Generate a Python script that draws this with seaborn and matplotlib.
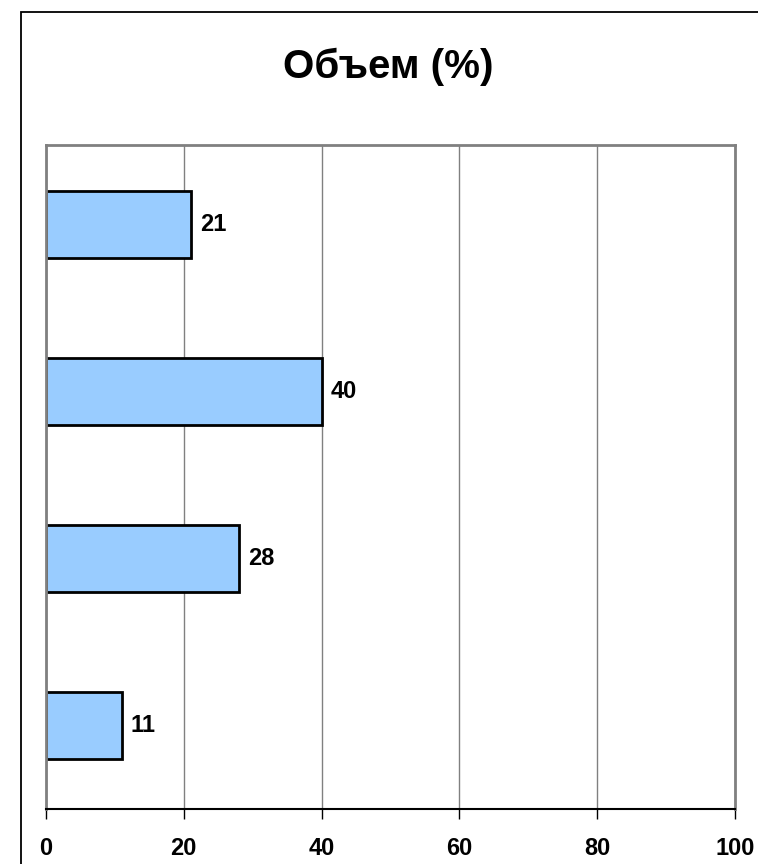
import matplotlib
matplotlib.use("Agg")
import matplotlib.pyplot as plt
import seaborn as sns
import pandas as pd
from matplotlib.patches import Rectangle

categories = ["1", "2", "3", "4"]
values = [21, 40, 28, 11]
xticks = [0, 20, 40, 60, 80, 100]
title = "Объем (%)"

sns.set_theme(style="white")
plt.rcParams['font.family'] = ['Liberation Sans', 'DejaVu Sans']
plt.rcParams['text.color'] = 'black'
plt.rcParams['xtick.color'] = 'black'

W, H = 758, 864
fig = plt.figure(figsize=(W / 100, H / 100), dpi=100)
fig.patch.set_facecolor("white")

# outer frame (extends beyond right/bottom)
fig.patches.append(Rectangle((21 / W, -0.2), 1.5, 1 - 12 / H + 0.2,
                             transform=fig.transFigure, fill=False,
                             edgecolor="black", linewidth=1.3))

ax = fig.add_axes([46 / W, 1 - 809 / H, (735 - 46) / W, (809 - 145) / H])
df = pd.DataFrame({"cat": categories, "val": values})
sns.barplot(data=df, y="cat", x="val", orient="h", color="#99CCFF",
            saturation=1, edgecolor="black", linewidth=2, width=0.4, ax=ax)

ax.set_xlim(0, 100)
ax.set_ylim(3.5, -0.476)
ax.set_xticks(xticks)
ax.set_xticklabels([str(t) for t in xticks], fontweight="bold", fontsize=17,
                   color="black")
ax.set_yticks([])
ax.set_xlabel("")
ax.set_ylabel("")
ax.grid(axis="x", color="#808080", linewidth=1)
ax.set_axisbelow(True)
for s in ["top", "left", "right"]:
    ax.spines[s].set_color("#808080")
    ax.spines[s].set_linewidth(2)
ax.spines["bottom"].set_color("black")
ax.spines["bottom"].set_linewidth(1.5)
ax.tick_params(axis="x", direction="out", length=7, width=1, color="black",
               bottom=True, pad=13, labelcolor="black")

for c in ax.containers:
    ax.bar_label(c, labels=[str(v) for v in values], padding=6.5,
                 fontweight="bold", fontsize=17, color="black")

fig.text(388 / W, 1 - 78 / H, title, ha="center", va="baseline",
         fontsize=29, fontweight="bold", color="black")

fig.savefig("out.png", dpi=100)
